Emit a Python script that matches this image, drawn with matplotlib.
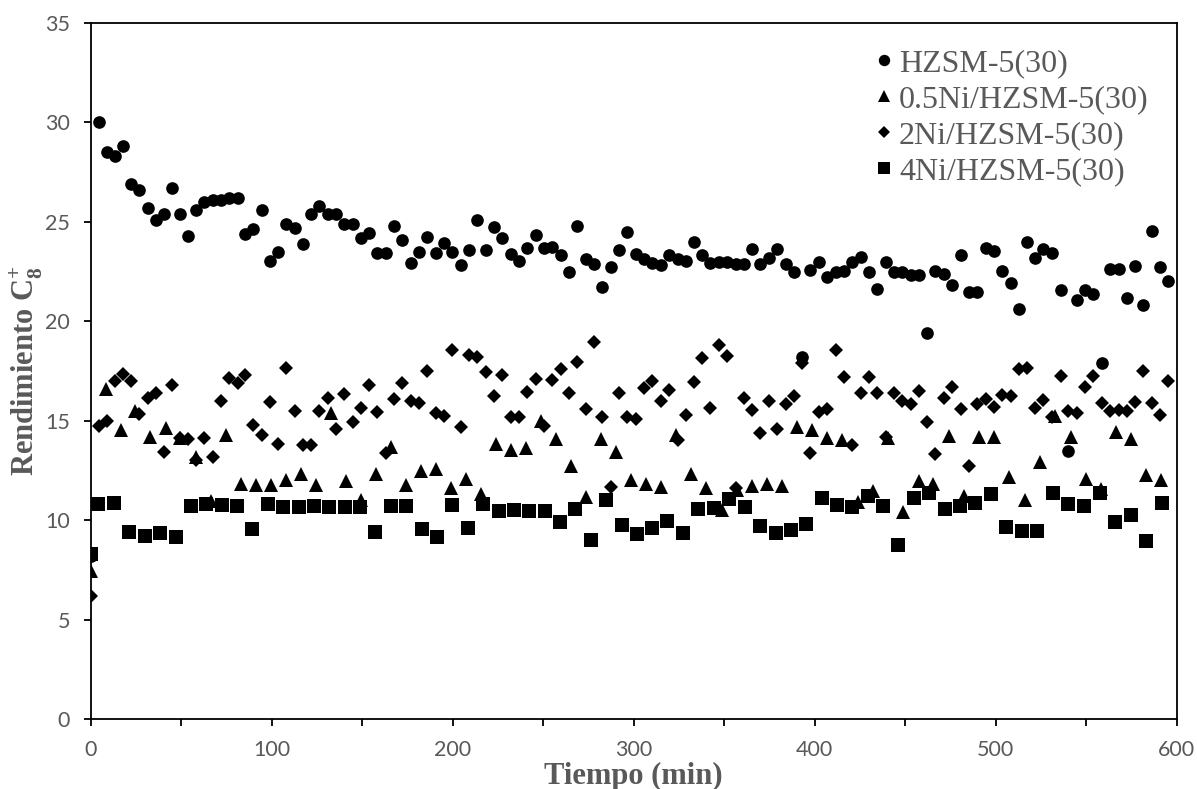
import matplotlib
matplotlib.use("Agg")
import matplotlib.pyplot as plt
from matplotlib.ticker import MultipleLocator, FixedLocator

# ---------------- data ----------------
# HZSM-5(30) and 2Ni/HZSM-5(30): same sampling times
tiempo_a = [0, 4.6, 8.8, 13.4, 17.7, 22.3, 26.9, 31.5, 36.1, 40.7, 45.1,
            49.3, 53.9, 58.3, 62.8, 67.4, 71.8, 76.4, 81.2, 85.2, 89.8,
            94.5, 99.1, 103.5, 108.1, 112.9, 117.1, 121.5, 126.3, 130.9, 135.5,
            140.1, 144.8, 149.3, 153.9, 158.2, 163.0, 167.6, 172.2, 176.8, 181.4,
            186.0, 190.6, 195.2, 199.8, 204.4, 209.0, 213.6, 218.2, 222.8, 227.4,
            232.0, 236.6, 241.2, 245.9, 250.4, 255.0, 259.6, 264.3, 268.8, 273.5,
            278.0, 282.6, 287.3, 291.9, 296.5, 301.1, 305.7, 310.3, 314.9, 319.4,
            324.6, 328.9, 333.3, 337.9, 342.2, 347.1, 351.7, 356.4, 361.0, 365.5,
            369.8, 374.8, 379.3, 384.0, 388.6, 393.1, 397.4, 402.4, 406.6, 411.6,
            416.2, 420.8, 425.4, 430.0, 434.6, 439.2, 443.8, 448.4, 453.0, 457.6,
            462.0, 466.6, 471.4, 476.0, 480.7, 485.2, 489.8, 494.5, 499.0, 503.6,
            508.3, 512.9, 517.1, 521.7, 526.3, 531.3, 535.9, 540.2, 544.8, 549.3,
            553.9, 558.6, 563.1, 568.1, 572.4, 577.0, 581.5, 586.2, 590.8, 595.4]

hzsm5 = [8.2, 30.0, 28.5, 28.3, 28.8, 26.9, 26.6, 25.7, 25.1, 25.4, 26.7,
         25.4, 24.3, 25.6, 26.0, 26.1, 26.1, 26.2, 26.2, 24.4, 24.65,
         25.6, 23.0, 23.45, 24.9, 24.7, 23.9, 25.4, 25.8, 25.4, 25.4,
         24.9, 24.9, 24.2, 24.45, 23.4, 23.4, 24.8, 24.1, 22.9, 23.45,
         24.25, 23.4, 23.95, 23.45, 22.8, 23.55, 25.1, 23.55, 24.75, 24.2,
         23.35, 23.0, 23.7, 24.35, 23.7, 23.75, 23.3, 22.45, 24.8, 23.1,
         22.85, 21.7, 22.7, 23.55, 24.5, 23.35, 23.1, 22.9, 22.8, 23.3,
         23.1, 23.0, 24.0, 23.3, 22.9, 22.95, 22.95, 22.85, 22.85, 23.6,
         22.85, 23.15, 23.6, 22.85, 22.45, 18.2, 22.55, 22.95, 22.2, 22.45,
         22.5, 22.95, 23.2, 22.45, 21.6, 22.95, 22.45, 22.45, 22.3, 22.3,
         19.4, 22.5, 22.35, 21.8, 23.3, 21.45, 21.45, 23.65, 23.5, 22.5,
         21.9, 20.6, 24.0, 23.15, 23.6, 23.4, 21.55, 13.45, 21.05, 21.55,
         21.35, 17.9, 22.6, 22.6, 21.15, 22.75, 20.8, 24.55, 22.7, 22.0]

ni2 = [6.2, 14.75, 15.0, 17.0, 17.35, 17.0, 15.35, 16.15, 16.4, 13.4, 16.8,
       14.1, 14.05, 13.0, 14.12, 13.16, 15.96, 17.14, 16.89, 17.29, 14.78,
       14.3, 15.94, 13.8, 17.63, 15.49, 13.77, 13.77, 15.47, 16.16, 14.57,
       16.36, 14.94, 15.64, 16.8, 15.45, 13.36, 16.06, 16.88, 16.0, 15.87,
       17.51, 15.37, 15.25, 18.55, 14.67, 18.31, 18.18, 17.44, 16.26, 17.29,
       15.19, 15.19, 16.42, 17.08, 14.75, 17.03, 17.6, 16.4, 17.93, 15.59,
       18.93, 15.17, 11.66, 16.37, 15.16, 15.09, 16.64, 17.0, 15.96, 16.54,
       14.0, 15.29, 16.93, 18.13, 15.64, 18.8, 18.23, 11.6, 16.12, 15.54,
       14.37, 15.99, 14.58, 15.84, 16.26, 17.9, 13.36, 15.45, 15.59, 18.55,
       17.18, 13.75, 16.4, 17.18, 16.4, 14.2, 16.4, 15.97, 15.84, 16.51,
       14.92, 13.3, 16.12, 16.68, 15.59, 12.74, 15.81, 16.09, 15.7, 16.31,
       16.22, 17.6, 17.63, 15.64, 16.04, 15.2, 17.26, 15.47, 15.37, 16.68,
       17.25, 15.87, 15.5, 15.54, 15.5, 15.92, 17.49, 15.89, 15.29, 16.98]

# 0.5Ni/HZSM-5(30)
tiempo_b = [0, 8.3, 16.6, 24.4, 32.8, 41.4, 49.6, 58.2, 66.6, 74.6, 83.0,
            91.3, 99.4, 107.7, 116.0, 124.3, 132.6, 140.9, 149.4, 157.5, 165.9,
            174.2, 182.5, 190.8, 199.1, 207.4, 215.6, 223.9, 232.2, 240.5, 248.8,
            257.2, 265.5, 273.8, 282.1, 290.3, 298.6, 306.9, 315.2, 323.4, 331.8,
            340.2, 348.6, 357.0, 365.4, 373.5, 381.8, 390.1, 398.5, 406.9, 415.3,
            423.7, 432.0, 440.5, 448.9, 457.4, 465.5, 474.2, 482.5, 491.0, 499.3,
            507.5, 516.2, 524.5, 532.8, 541.4, 549.7, 558.1, 566.4, 574.6, 583.3,
            591.5]
ni05 = [7.45, 16.59, 14.55, 15.5, 14.17, 14.62, 14.14, 13.15, 10.95, 14.28, 11.82,
        11.74, 11.77, 12.02, 12.33, 11.74, 15.37, 11.96, 10.99, 12.3, 13.66,
        11.74, 12.46, 12.58, 11.6, 12.08, 11.32, 13.83, 13.53, 13.61, 14.97,
        14.05, 12.71, 11.15, 14.05, 13.41, 11.99, 11.82, 11.66, 14.3, 12.29,
        11.62, 10.52, 11.52, 11.71, 11.82, 11.72, 14.67, 14.53, 14.13, 14.0,
        10.9, 11.46, 14.13, 10.4, 11.96, 11.82, 14.25, 11.19, 14.2, 14.16,
        12.16, 11.02, 12.91, 15.25, 14.2, 12.08, 11.57, 14.42, 14.08, 12.24,
        11.99]

# 4Ni/HZSM-5(30)
tiempo_c = [0, 4.2, 12.7, 21.2, 30.0, 38.3, 46.9, 55.4, 63.7, 72.4, 80.6,
            89.1, 97.8, 106.3, 114.9, 123.4, 131.7, 140.5, 148.8, 157.0, 165.7,
            174.0, 183.0, 191.1, 199.4, 208.3, 216.6, 225.4, 233.9, 242.1, 250.8,
            259.3, 267.6, 276.2, 284.7, 293.5, 301.8, 310.1, 318.6, 327.2, 335.5,
            344.2, 352.5, 361.3, 369.8, 378.4, 386.7, 395.0, 403.8, 412.1, 420.4,
            429.2, 437.5, 446.0, 454.8, 463.0, 472.0, 480.3, 488.6, 497.2, 505.7,
            514.4, 522.7, 531.5, 540.0, 548.6, 557.6, 565.9, 574.6, 583.0, 591.9]
ni4 = [8.31, 10.82, 10.85, 9.4, 9.2, 9.35, 9.15, 10.7, 10.8, 10.76, 10.7,
       9.53, 10.8, 10.65, 10.65, 10.7, 10.65, 10.65, 10.65, 9.4, 10.7,
       10.7, 9.53, 9.15, 10.76, 9.6, 10.8, 10.45, 10.49, 10.45, 10.45,
       9.9, 10.54, 8.98, 10.99, 9.73, 9.28, 9.6, 9.95, 9.35, 10.54,
       10.6, 11.06, 10.65, 9.7, 9.35, 9.5, 9.78, 11.1, 10.74, 10.65,
       11.2, 10.7, 8.75, 11.1, 11.36, 10.54, 10.7, 10.85, 11.31, 9.65,
       9.45, 9.45, 11.36, 10.8, 10.69, 11.36, 9.9, 10.24, 8.95, 10.85]

etiquetas = ["HZSM-5(30)", "0.5Ni/HZSM-5(30)", "2Ni/HZSM-5(30)", "4Ni/HZSM-5(30)"]
xticks_mayores = [0, 100, 200, 300, 400, 500, 600]
yticks = [0, 5, 10, 15, 20, 25, 30, 35]

# ---------------- style ----------------
GRIS = "#595959"
plt.rcParams["mathtext.fontset"] = "custom"
plt.rcParams["mathtext.rm"] = "Liberation Serif"
plt.rcParams["mathtext.bf"] = "Liberation Serif:bold"

fig = plt.figure(figsize=(11.97, 7.89), dpi=100)
ax = fig.add_axes([0.07578, 0.08872, 0.90727, 0.88251])

ax.plot(tiempo_a, hzsm5, ls="none", marker="o", ms=9.1, mew=0, color="black",
        label=etiquetas[0])
ax.plot(tiempo_b, ni05, ls="none", marker="^", ms=9.6, mew=0, color="black",
        label=etiquetas[1])
ax.plot(tiempo_a, ni2, ls="none", marker="D", ms=6.8, mew=0, color="black",
        label=etiquetas[2])
ax.plot(tiempo_c, ni4, ls="none", marker="s", ms=9.4, mew=0, color="black",
        label=etiquetas[3])

ax.set_xlim(0, 600)
ax.set_ylim(0, 35)
ax.xaxis.set_major_locator(FixedLocator(xticks_mayores))
ax.xaxis.set_minor_locator(MultipleLocator(50))
ax.yaxis.set_major_locator(FixedLocator(yticks))

for s in ax.spines.values():
    s.set_linewidth(1.3)
    s.set_color("black")

ax.tick_params(axis="both", which="both", direction="out", length=5, width=1.3,
               color="black", top=False, right=False)
ax.tick_params(axis="both", which="major", labelsize=15.5, labelcolor=GRIS, pad=10)
for lab in ax.get_xticklabels() + ax.get_yticklabels():
    lab.set_fontfamily("Lato")

ax.set_xlabel("Tiempo (min)", fontsize=22, fontweight="bold", color=GRIS,
              fontfamily="Liberation Serif")
ax.xaxis.set_label_coords(0.5, -0.061)
ax.set_ylabel(r"Rendimiento C$_\mathbf{8}^\mathbf{+}$", fontsize=22,
              fontweight="bold", color=GRIS, fontfamily="Liberation Serif")
ax.yaxis.set_label_coords(-0.043, 0.5)

leg = ax.legend(loc="upper left", bbox_to_anchor=(0.7231, 0.963), frameon=False,
                prop={"family": "Liberation Serif", "size": 23},
                handlelength=0.5, handletextpad=0.22, labelspacing=0.21,
                borderaxespad=0.0, borderpad=0.0, numpoints=1, markerscale=0.9)
for txt in leg.get_texts():
    txt.set_color(GRIS)

fig.savefig("out.png", dpi=100)
